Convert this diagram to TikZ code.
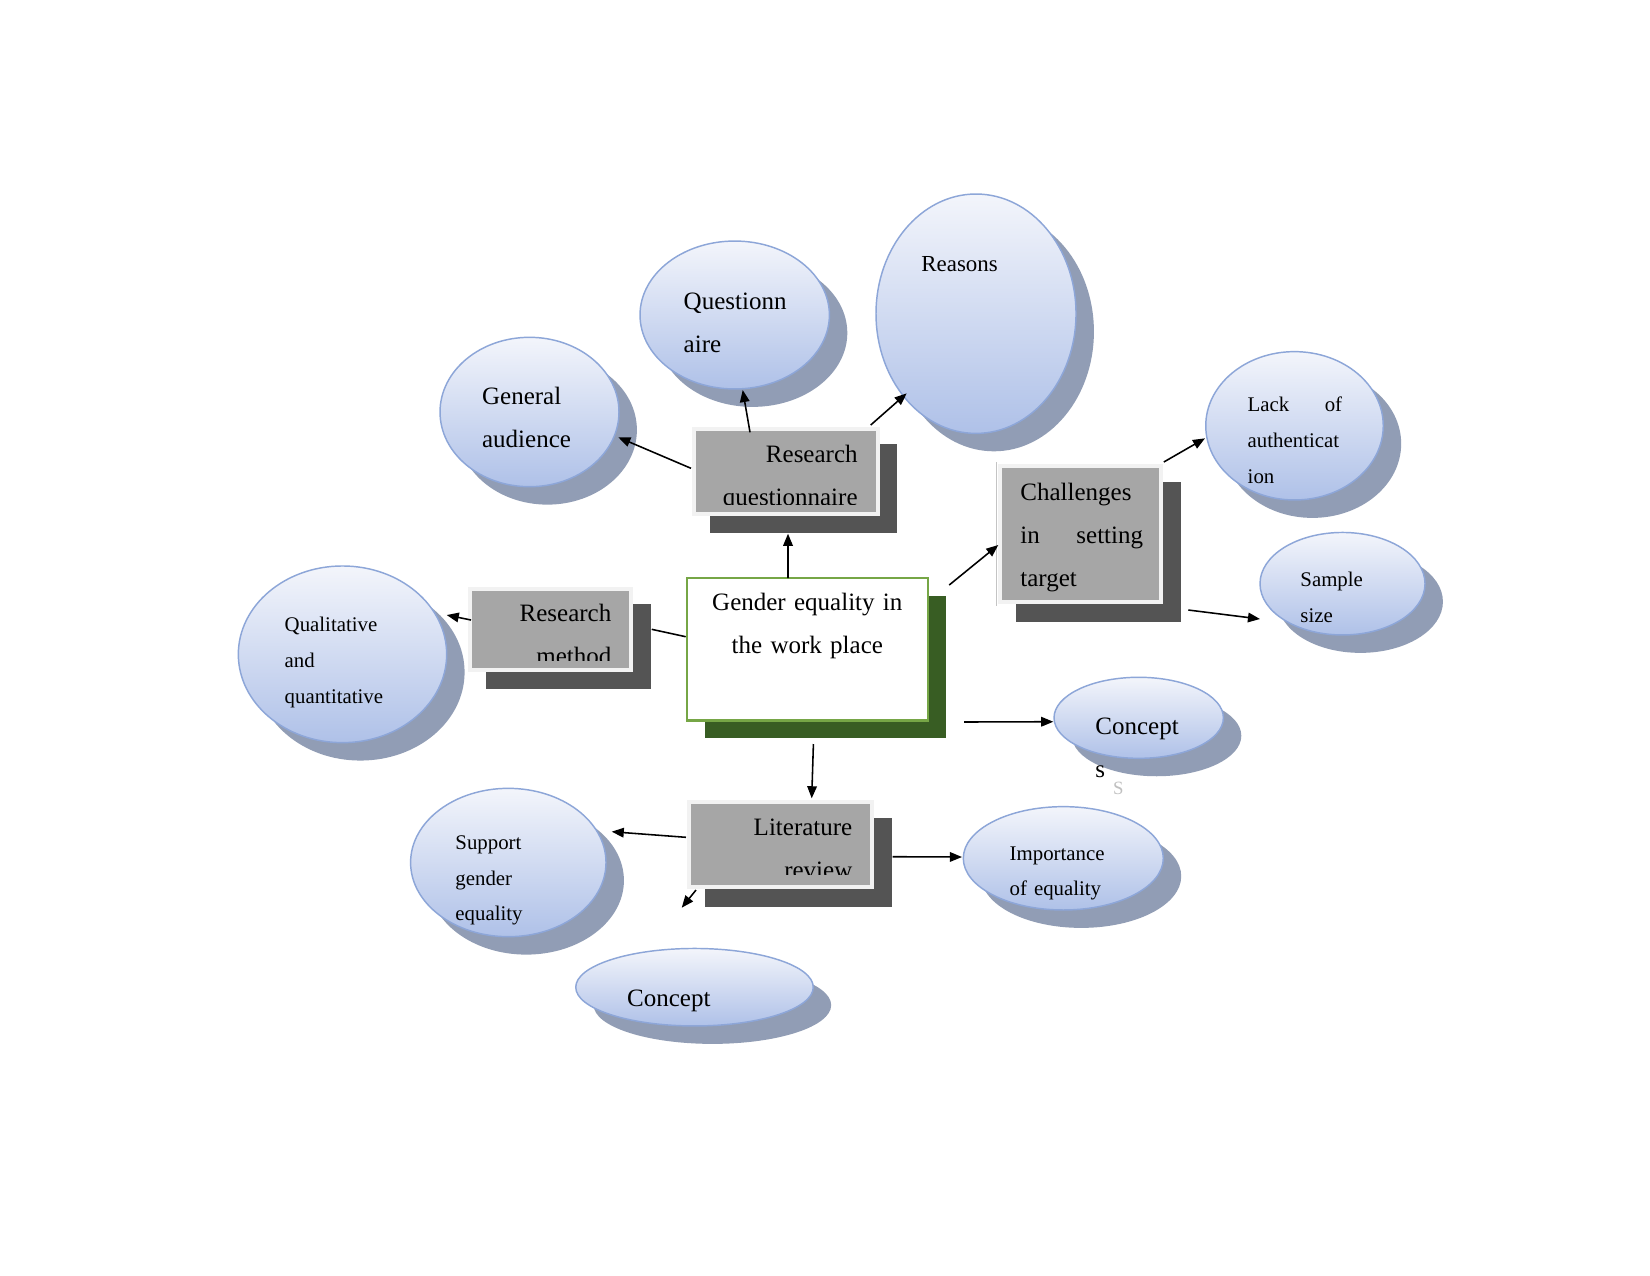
\documentclass[tikz,border=0pt]{standalone}
\usepackage{fontspec}
\setmainfont{Liberation Serif}
\usetikzlibrary{arrows.meta,shapes.geometric,shadows}
\definecolor{boxgrey}{HTML}{A6A6A6}
\definecolor{rimgrey}{HTML}{F2F2F2}
\definecolor{rimedge}{HTML}{C4C4C4}
\definecolor{shadegrey}{HTML}{545454}
\definecolor{hubgreen}{HTML}{76A646}
\definecolor{hubshade}{HTML}{385D23}
\definecolor{bubtop}{HTML}{F3F5FB}
\definecolor{bubbot}{HTML}{AFC1E8}
\definecolor{bubedge}{HTML}{8DA6D8}
\definecolor{bubshade}{HTML}{919DB5}
\definecolor{faintgrey}{HTML}{C0C0C0}

\begin{document}
\begin{tikzpicture}[x=0.48pt, y=-0.48pt,
  bubble/.style={ellipse, draw=bubedge, line width=0.7pt, top color=bubtop, bottom color=bubbot,
                 inner sep=0pt, drop shadow={shadow xshift=8.6pt, shadow yshift=-8.6pt, fill=bubshade, opacity=1}},
  greybox/.style={rectangle, fill=boxgrey, draw=rimgrey, line width=1.9pt, inner sep=0pt,
                  drop shadow={shadow xshift=8.5pt, shadow yshift=-8.4pt, fill=shadegrey, draw=shadegrey,
                               line width=1.9pt, opacity=1}},
  hub/.style={rectangle, fill=white, draw=hubgreen, line width=1.2pt, inner sep=0pt,
              drop shadow={shadow xshift=8.6pt, shadow yshift=-8.6pt, fill=hubshade, opacity=1}},
  big/.style={font=\fontsize{12}{20.7}\selectfont},
  small/.style={font=\fontsize{10}{17.2}\selectfont},
  lbl/.style={anchor=base west, inner sep=0pt, align=left, text width=60pt},
  rlbl/.style={anchor=base east, inner sep=0pt, align=right, text width=70pt},
  arr/.style={-{Triangle[length=5.8pt,width=4.6pt]}, line width=0.75pt}
]
\fill[white] (0,0) rectangle (1650,1275);
\useasboundingbox (0,0) rectangle (1650,1275);

% ellipses
\node[bubble, minimum width=90.9pt, minimum height=71pt] (quest) at (734.7,315) {};
\node[bubble, minimum width=96pt, minimum height=114.9pt] (reasons) at (976,313.7) {};
\node[bubble, minimum width=85.9pt, minimum height=71.7pt] (general) at (529.5,412) {};
\node[bubble, minimum width=100pt, minimum height=84.8pt] (qualit) at (342.5,654.3) {};
\node[bubble, minimum width=85.2pt, minimum height=71.2pt] (lack) at (1294.5,425.8) {};
\node[bubble, minimum width=79.2pt, minimum height=49.2pt] (sample) at (1342.5,583.7) {};
\node[bubble, minimum width=81.3pt, minimum height=38.9pt] (conceptr) at (1138.7,717.8) {};
\node[bubble, minimum width=96pt, minimum height=49.6pt] (importance) at (1063.3,858.3) {};
\node[bubble, minimum width=93.8pt, minimum height=71.2pt] (support) at (508.3,862.5) {};
\node[bubble, minimum width=114pt, minimum height=37.2pt] (conceptb) at (694.5,987.2) {};

% boxes
\node[hub, minimum width=115.7pt, minimum height=68.2pt] (gender) at (807.3,649.2) {};
\node[greybox, minimum width=88.3pt, minimum height=40.8pt] (rq) at (785.8,471.2) {};
\node[greybox, minimum width=77.3pt, minimum height=38.9pt] (rm) at (550.8,629.2) {};
\node[greybox, minimum width=77.3pt, minimum height=65.3pt] (chal) at (1080.8,534) {};
\node[greybox, minimum width=87.8pt, minimum height=40.8pt] (lr) at (780.8,844.7) {};
\draw[rimedge, line width=0.6pt] ([shift={(-2,-2)}]chal.north west) -- ([shift={(-2,2)}]chal.south west);

% texts
\node[lbl, big] (questtxt) at (683.3,309) {Questionn\\aire};
\node[lbl, font=\fontsize{11}{13}\selectfont] (reasonstxt) at (921,271) {Reasons};
\node[lbl, big] (generaltxt) at (481.7,404) {General\\audience};
\node[lbl, small] (qualittxt) at (284.3,631.7) {Qualitative\\and\\quantitative};
\node[lbl, small, text width=45.3pt] (lacktxt) at (1247.3,411.7) {Lack\hspace{0pt plus 1filll}of\\authenticat\\ion};
\node[lbl, small] (sampletxt) at (1300,586.7) {Sample\\size};
\node[lbl, big] (conceptrtxt) at (1095,734) {Concept};
\node[lbl, big] (stray) at (1095,777.3) {s};
\node[lbl, font=\fontsize{9}{11}\selectfont, text=faintgrey] (straycap) at (1112.7,794) {S};
\node[lbl, small, text width=70pt] (importancetxt) at (1009.3,860) {Importance\\of equality};
\node[lbl, small] (supporttxt) at (455,849.3) {Support\\gender\\equality};
\node[lbl, big] (conceptbtxt) at (626.7,1006) {Concept};
\node[big, anchor=base, inner sep=0pt, align=center, text width=110pt] (gendertxt) at (807.3,610) {Gender equality in\\the work place};
\node[lbl, big, text width=58.9pt] (chaltxt) at (1020,500) {Challenges\\in\hspace{0pt plus 1filll}setting\\target};

\begin{scope}
  \clip (rq.north west) rectangle ([yshift=5.6pt]rq.south east);
  \node[rlbl, big] (rqtxt) at (858,462) {Research\\questionnaire};
\end{scope}
\begin{scope}
  \clip (rm.north west) rectangle ([yshift=5.5pt]rm.south east);
  \node[rlbl, big] (rmtxt) at (611.7,621.7) {Research\\method};
\end{scope}
\begin{scope}
  \clip (lr.north west) rectangle ([yshift=7.2pt]lr.south east);
  \node[rlbl, big] (lrtxt) at (852.7,835) {Literature\\review};
\end{scope}

% connectors
\draw[arr] ([shift={(-19.3,-71.2)}]gender.center) -- ([shift={(2.2,62.5)}]rq.center);
\draw[arr] ([shift={(-35.8,-38.9)}]rq.center) -- ([shift={(8,75)}]quest.center);
\draw[arr] ([shift={(-94.8,-2.9)}]rq.center) -- ([shift={(88.8,25.3)}]general.center);
\draw[arr] ([shift={(84.9,-46.2)}]rq.center) -- ([shift={(-69.3,79.6)}]reasons.center);
\draw[arr] ([shift={(141.9,-64.2)}]gender.center) -- ([shift={(-82.5,11)}]chal.center);
\draw[arr] ([shift={(83,-72)}]chal.center) -- ([shift={(-89.5,12.5)}]lack.center);
\draw[arr] ([shift={(107.5,76)}]chal.center) -- ([shift={(-82.5,35.3)}]sample.center);
\draw[line width=0.75pt] ([shift={(-121.6,-12.5)}]gender.center) -- ([shift={(100.9,0.1)}]rm.center);
\draw[arr] ([shift={(-79.8,-9.2)}]rm.center) -- ([shift={(104.2,-39.3)}]qualit.center);
\draw[arr] ([shift={(156.7,72.8)}]gender.center) -- ([shift={(-85.4,3.9)}]conceptr.center);
\draw[arr] ([shift={(6.1,94.8)}]gender.center) -- ([shift={(30.9,-46.4)}]lr.center);
\draw[arr] ([shift={(111.9,12)}]lr.center) -- ([shift={(-101.3,-1.3)}]importance.center);
\draw[arr] ([shift={(-94.8,-7.4)}]lr.center) -- ([shift={(103.4,-30.8)}]support.center);
\coordinate (lrloose) at ([shift={(-99.1,63)}]lr.center);
\draw[arr] ([shift={(-84.8,45.3)}]lr.center) -- (lrloose);
\end{tikzpicture}
\end{document}
